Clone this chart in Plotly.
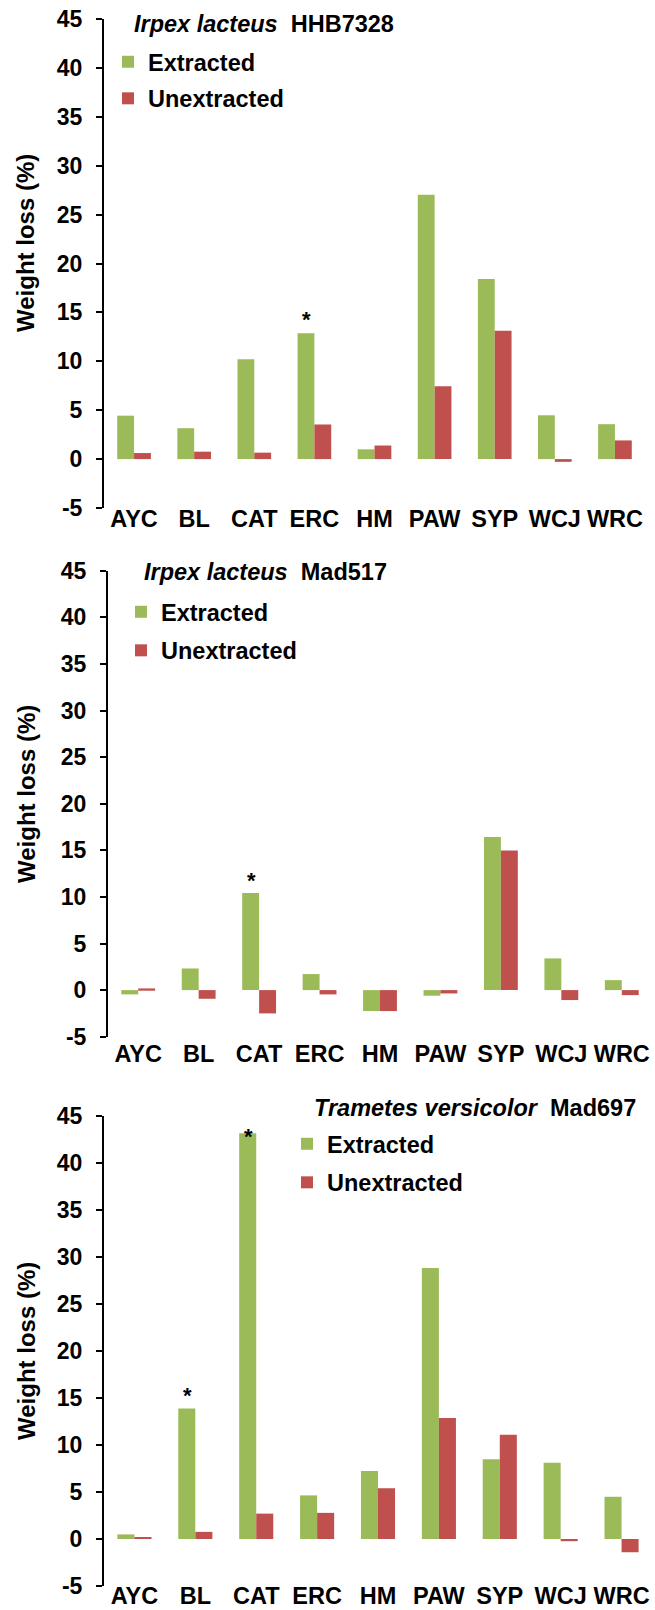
import plotly.graph_objects as go

# Wood substrates (x categories)
categories = ["AYC", "BL", "CAT", "ERC", "HM", "PAW", "SYP", "WCJ", "WRC"]

# Weight loss (%) per fungus strain
hhb7328_extracted = [4.44, 3.16, 10.2, 12.87, 1.0, 27.03, 18.42, 4.48, 3.57]
hhb7328_unextracted = [0.62, 0.76, 0.66, 3.54, 1.39, 7.46, 13.12, -0.28, 1.91]

mad517_extracted = [-0.46, 2.32, 10.41, 1.72, -2.25, -0.6, 16.42, 3.4, 1.07]
mad517_unextracted = [0.18, -0.93, -2.5, -0.46, -2.25, -0.36, 14.99, -1.07, -0.54]

mad697_extracted = [0.49, 13.88, 43.17, 4.64, 7.23, 28.83, 8.48, 8.1, 4.49]
mad697_unextracted = [0.19, 0.76, 2.7, 2.78, 5.4, 12.86, 11.1, -0.23, -1.41]

# Substrates marked as significant (*)
hhb7328_starred = ["ERC"]
mad517_starred = ["CAT"]
mad697_starred = ["BL", "CAT"]

y_ticks = [-5, 0, 5, 10, 15, 20, 25, 30, 35, 40, 45]
y_range = [-5, 45]

W, H = 655, 1610
FONT = "Liberation Sans, Arial, sans-serif"
GREEN = "#9BBB59"
RED = "#C0504D"


def fx(px):
    return px / W


def fy(py):
    return 1 - py / H


# pixel geometry of the three stacked panels
panels = [
    dict(species="Irpex lacteus", strain="HHB7328",
         ext=hhb7328_extracted, unext=hhb7328_unextracted, starred=hhb7328_starred,
         x0=104, x1=645, ytop=19, ybot=508, label_standoff=-6,
         title_xy=(132, 24), legend_xy=(108, 40), legend_gap=3, ytitle_y=243),
    dict(species="Irpex lacteus", strain="Mad517",
         ext=mad517_extracted, unext=mad517_unextracted, starred=mad517_starred,
         x0=108, x1=652, ytop=570.7, ybot=1036.7, label_standoff=1,
         title_xy=(142, 572), legend_xy=(121, 590), legend_gap=5, ytitle_y=794),
    dict(species="Trametes versicolor", strain="Mad697",
         ext=mad697_extracted, unext=mad697_unextracted, starred=mad697_starred,
         x0=104, x1=652, ytop=1116, ybot=1586, label_standoff=-7,
         title_xy=(312, 1108), legend_xy=(287, 1122), legend_gap=5, ytitle_y=1351),
]

fig = go.Figure()
layout = {}
annotations = []
n_cat = len(categories)

for i, p in enumerate(panels, start=1):
    sfx = "" if i == 1 else str(i)
    xname, yname = "x" + sfx, "y" + sfx
    legname = "legend" + sfx
    xdom = [fx(p["x0"]), fx(p["x1"])]
    ydom = [fy(p["ybot"]), fy(p["ytop"])]

    for name, vals, color in (("Extracted", p["ext"], GREEN),
                              ("Unextracted", p["unext"], RED)):
        fig.add_trace(go.Bar(
            x=categories, y=vals, name=name,
            marker=dict(color=color, line=dict(width=0)),
            xaxis=xname, yaxis=yname, legend=legname,
            legendgroup=f"{name}{i}",
        ))

    layout["xaxis" + sfx] = dict(
        domain=xdom, anchor=yname, type="category",
        categoryorder="array", categoryarray=categories,
        range=[-0.5, n_cat - 0.5], automargin=False,
        showline=False, ticks="", showgrid=False, zeroline=False,
        ticklabelstandoff=p["label_standoff"],
        tickfont=dict(family=FONT, size=23.5, color="black", weight="bold"),
    )
    layout["yaxis" + sfx] = dict(
        domain=ydom, anchor=xname, range=y_range, automargin=False,
        tickvals=y_ticks, ticktext=[str(v) for v in y_ticks],
        showline=True, linecolor="black", linewidth=2,
        ticks="outside", ticklen=6, tickwidth=2, tickcolor="black",
        showgrid=False, zeroline=False, ticklabelstandoff=9,
        tickfont=dict(family=FONT, size=23, color="black", weight="bold"),
    )
    # horizontal axis line at y = 0 with tick marks between substrates
    zero_frac = (0 - y_range[0]) / (y_range[1] - y_range[0])
    zpos = ydom[0] + zero_frac * (ydom[1] - ydom[0])
    layout["xaxis" + str(i + 3)] = dict(
        domain=xdom, overlaying=xname, anchor="free", position=zpos,
        range=[-0.5, n_cat - 0.5], automargin=False,
        tickvals=[k - 0.5 for k in range(n_cat + 1)],
        showline=True, linecolor="black", linewidth=2,
        ticks="outside", ticklen=7, tickwidth=2, tickcolor="black",
        showticklabels=False, showgrid=False, zeroline=False,
    )
    layout[legname] = dict(
        x=fx(p["legend_xy"][0]), y=fy(p["legend_xy"][1]),
        xanchor="left", yanchor="top",
        bgcolor="rgba(0,0,0,0)", tracegroupgap=p["legend_gap"],
        font=dict(family=FONT, size=23.5, color="black", weight="bold"),
    )
    # panel heading
    annotations.append(dict(
        xref="paper", yref="paper",
        x=fx(p["title_xy"][0]), y=fy(p["title_xy"][1]),
        xanchor="left", yanchor="middle", showarrow=False,
        text=f"<b><i>{p['species']}</i>\u00a0\u00a0{p['strain']}</b>",
        font=dict(family=FONT, size=23.5, color="black"),
    ))
    # y-axis title
    annotations.append(dict(
        xref="paper", yref="paper", x=fx(26), y=fy(p["ytitle_y"]),
        xanchor="center", yanchor="middle", textangle=-90, showarrow=False,
        text="<b>Weight loss (%)</b>",
        font=dict(family=FONT, size=24, color="black"),
    ))
    # significance stars above the extracted bars
    for cat in p["starred"]:
        v = p["ext"][categories.index(cat)]
        annotations.append(dict(
            xref=xname, yref=yname, x=cat, y=min(v + 1.9, y_range[1] - 1.6),
            xshift=-8, yshift=-5, xanchor="center", yanchor="middle",
            showarrow=False, text="<b>*</b>",
            font=dict(family=FONT, size=22, color="black"),
        ))

fig.update_layout(
    template="none",
    width=W, height=H,
    margin=dict(l=0, r=0, t=0, b=0, pad=0),
    paper_bgcolor="white", plot_bgcolor="white",
    barmode="group", bargap=0.44, bargroupgap=0,
    annotations=annotations,
    **layout,
)

fig.write_html("out.html")
